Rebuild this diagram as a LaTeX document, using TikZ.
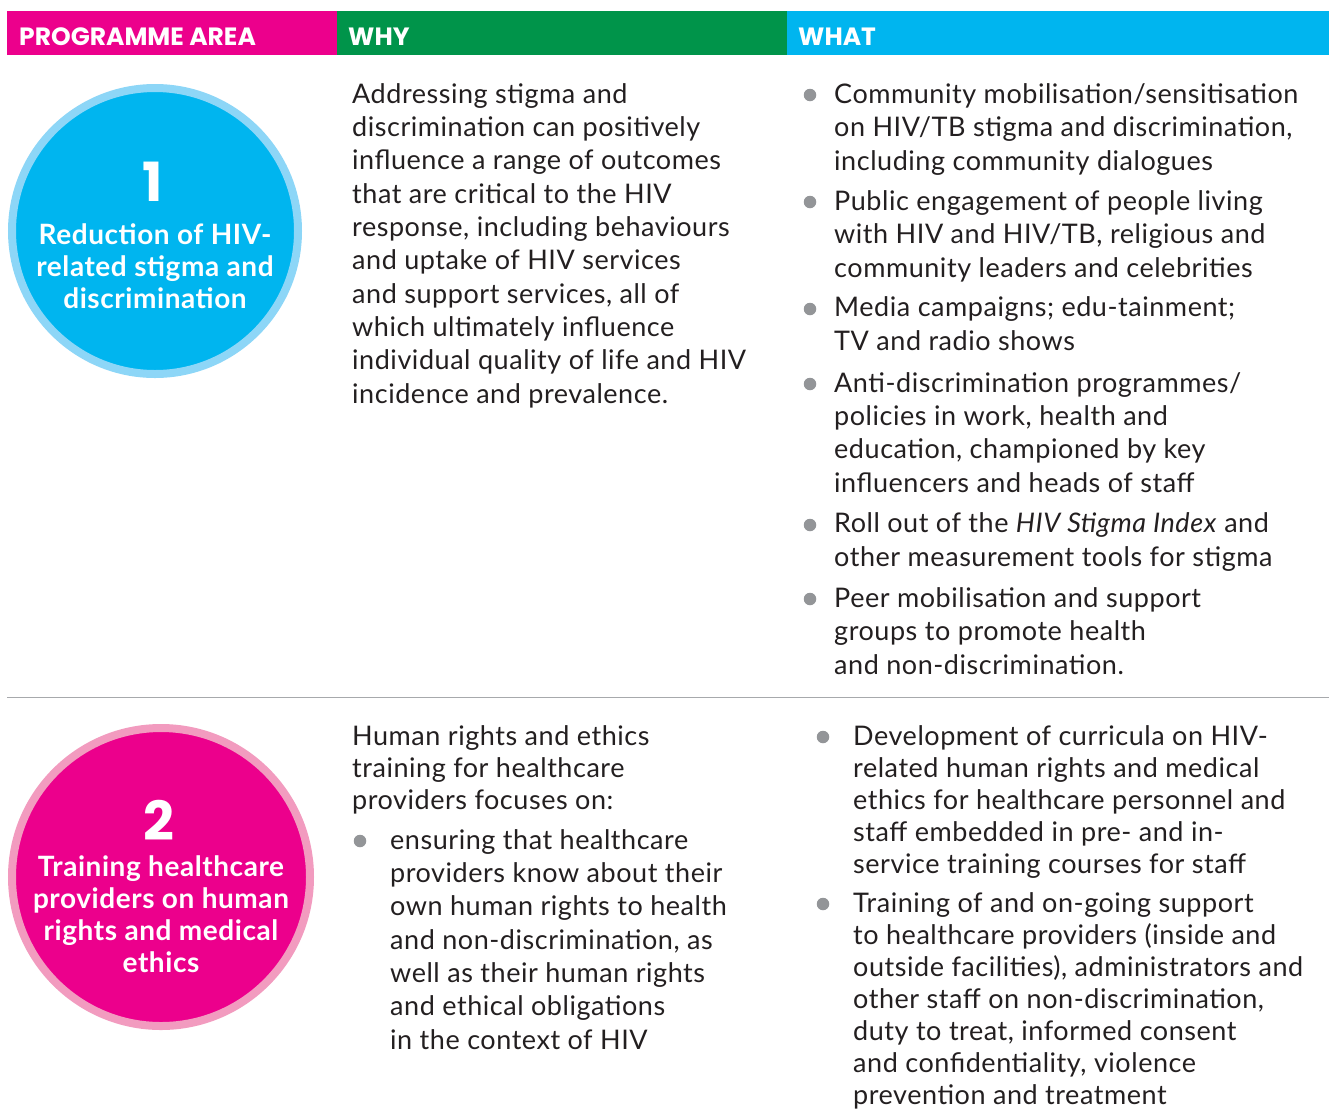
\documentclass[tikz,border=0pt]{standalone}
\usepackage{fontspec}
\setmainfont{Lato}[LetterSpace=2]
\newfontfamily\headfont{Poppins}
\usetikzlibrary{positioning}

\definecolor{pinkA}{HTML}{EC008C}
\definecolor{greenA}{HTML}{00944A}
\definecolor{cyanA}{HTML}{00B5EF}
\definecolor{cyanRing}{HTML}{8DD6F7}
\definecolor{pinkRing}{HTML}{F29BBF}
\definecolor{inkA}{HTML}{231F20}
\definecolor{dotA}{HTML}{939598}
\definecolor{ruleA}{HTML}{A7A9AC}

% text nodes are placed by the baseline of their last line
\tikzset{
  hdrtxt/.style={anchor=base west,inner sep=0pt,text=white,font=\headfont\bfseries\fontsize{25}{25}\selectfont},
  body/.style={anchor=base west,inner sep=0pt,align=left,text=inkA,font=\fontsize{27}{33.3}\selectfont},
  bodyb/.style={body,font=\fontsize{27}{32}\selectfont},
  dot/.style={circle,fill=dotA,inner sep=0pt,minimum size=12.5pt},
  disc/.style={circle,line width=8pt,minimum size=#1},
  numtxt/.style={text=white,inner sep=0pt,font=\headfont\bfseries\fontsize{54}{54}\selectfont},
  circtxt/.style={text=white,inner sep=0pt,align=center,font=\bfseries\fontsize{28}{32}\selectfont}
}

\begin{document}
\begin{tikzpicture}[x=1pt,y=-1pt]
\useasboundingbox (0,0) rectangle (1329,1117);

% header
\fill[pinkA] (7,11) rectangle (337,55);
\fill[greenA] (337,11) rectangle (787,55);
\fill[cyanA] (787,11) rectangle (1329,55);
\node[hdrtxt] (hArea) at (19,45) {PROGRAMME AREA};
\node[hdrtxt] (hWhy) at (348,45) {WHY};
\node[hdrtxt] (hWhat) at (798,45) {WHAT};

% area 1
\node[disc=286pt,fill=cyanA,draw=cyanRing] (c1) at (155,231) {};
\node[numtxt] (n1) at (153,182) {1};
\node[circtxt] (t1) at (155,266) {Reduction of HIV-\\related stigma and\\discrimination};

\node[body] (why1) at (352,403) {Addressing stigma and\\
discrimination can positively\\
influence a range of outcomes\\
that are critical to the HIV\\
response, including behaviours\\
and uptake of HIV services\\
and support services, all of\\
which ultimately influence\\
individual quality of life and HIV\\
incidence and prevalence.};

\node[body] (w1a) at (834,170) {Community mobilisation/sensitisation\\on HIV/TB stigma and discrimination,\\including community dialogues};
\node[body] (w1b) at (834,277) {Public engagement of people living\\with HIV and HIV/TB, religious and\\community leaders and celebrities};
\node[body] (w1c) at (834,350) {Media campaigns; edu-tainment;\\TV and radio shows};
\node[body] (w1d) at (834,492) {Anti-discrimination programmes/\\policies in work, health and\\education, championed by key\\influencers and heads of staff};
\node[body] (w1e) at (834,566) {Roll out of the \textit{HIV Stigma Index} and\\other measurement tools for stigma};
\node[body] (w1f) at (834,674) {Peer mobilisation and support\\groups to promote health\\and non-discrimination.};
\foreach \y/\n in {95/a,202/b,309/c,384/d,525/e,599/f}
  \node[dot] (d1\n) at (810,\y) {};

\draw[ruleA,line width=1pt] (7,697) -- (1329,697);

% area 2
\node[disc=298pt,fill=pinkA,draw=pinkRing] (c2) at (161,877) {};
\node[numtxt] (n2) at (159,820) {2};
\node[circtxt] (t2) at (161,914) {Training healthcare\\providers on human\\rights and medical\\ethics};

\node[bodyb] (why2) at (352,809) {Human rights and ethics\\training for healthcare\\providers focuses on:};
\node[body] (why2a) at (390,1049) {ensuring that healthcare\\
providers know about their\\
own human rights to health\\
and non-discrimination, as\\
well as their human rights\\
and ethical obligations\\
in the context of HIV};
\node[dot] (d2w) at (360,841) {};

\node[bodyb] (w2a) at (853,873) {Development of curricula on HIV-\\related human rights and medical\\ethics for healthcare personnel and\\staff embedded in pre- and in-\\service training courses for staff};
\node[bodyb] (w2b) at (853,1104) {Training of and on-going support\\to healthcare providers (inside and\\outside facilities), administrators and\\other staff on non-discrimination,\\duty to treat, informed consent\\and confidentiality, violence\\prevention and treatment};
\node[dot] (d2a) at (823,737) {};
\node[dot] (d2b) at (823,904) {};
\end{tikzpicture}
\end{document}
